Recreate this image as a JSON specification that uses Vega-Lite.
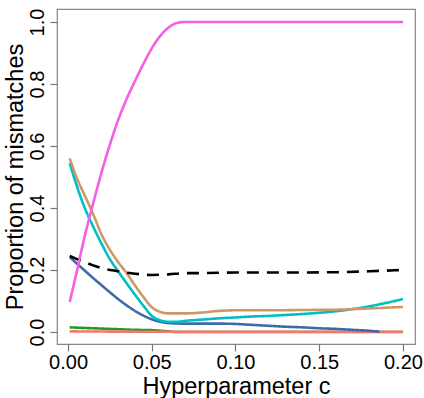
{
  "$schema": "https://vega.github.io/schema/vega-lite/v6.json",
  "width": 358,
  "height": 335,
  "autosize": {"type": "none"},
  "padding": {"left": 57, "top": 9, "right": 9, "bottom": 54},
  "background": "white",
  "config": {
    "view": {"stroke": "#888888", "strokeWidth": 1.2},
    "axis": {
      "grid": false,
      "domain": false,
      "tickColor": "#777777",
      "tickSize": 7,
      "tickWidth": 1.2,
      "labelFont": "Liberation Sans",
      "labelFontSize": 20,
      "labelColor": "#000000",
      "titleFont": "Liberation Sans",
      "titleFontSize": 23.5,
      "titleFontWeight": "normal",
      "titleColor": "#000000"
    }
  },
  "data": {
    "values": [
      {"s": "green", "x": 0.001, "y": 0.015},
      {"s": "green", "x": 0.01, "y": 0.013},
      {"s": "green", "x": 0.02, "y": 0.011},
      {"s": "green", "x": 0.03, "y": 0.009},
      {"s": "green", "x": 0.04, "y": 0.007},
      {"s": "green", "x": 0.05, "y": 0.006},
      {"s": "green", "x": 0.058, "y": 0.003},
      {"s": "green", "x": 0.065, "y": 0.0},
      {"s": "green", "x": 0.2, "y": 0.0},
      {"s": "red", "x": 0.001, "y": 0.002},
      {"s": "red", "x": 0.05, "y": 0.001},
      {"s": "red", "x": 0.1, "y": 0.001},
      {"s": "red", "x": 0.15, "y": 0.001},
      {"s": "red", "x": 0.2, "y": 0.001},
      {"s": "blue", "x": 0.001, "y": 0.242},
      {"s": "blue", "x": 0.005, "y": 0.222},
      {"s": "blue", "x": 0.01, "y": 0.198},
      {"s": "blue", "x": 0.015, "y": 0.174},
      {"s": "blue", "x": 0.02, "y": 0.151},
      {"s": "blue", "x": 0.025, "y": 0.128},
      {"s": "blue", "x": 0.03, "y": 0.106},
      {"s": "blue", "x": 0.035, "y": 0.086},
      {"s": "blue", "x": 0.04, "y": 0.068},
      {"s": "blue", "x": 0.045, "y": 0.053},
      {"s": "blue", "x": 0.05, "y": 0.041},
      {"s": "blue", "x": 0.055, "y": 0.033},
      {"s": "blue", "x": 0.06, "y": 0.029},
      {"s": "blue", "x": 0.07, "y": 0.027},
      {"s": "blue", "x": 0.08, "y": 0.027},
      {"s": "blue", "x": 0.09, "y": 0.027},
      {"s": "blue", "x": 0.1, "y": 0.026},
      {"s": "blue", "x": 0.11, "y": 0.023},
      {"s": "blue", "x": 0.12, "y": 0.02},
      {"s": "blue", "x": 0.13, "y": 0.017},
      {"s": "blue", "x": 0.14, "y": 0.015},
      {"s": "blue", "x": 0.15, "y": 0.012},
      {"s": "blue", "x": 0.16, "y": 0.01},
      {"s": "blue", "x": 0.17, "y": 0.007},
      {"s": "blue", "x": 0.18, "y": 0.004},
      {"s": "blue", "x": 0.186, "y": 0.001},
      {"s": "cyan", "x": 0.001, "y": 0.545},
      {"s": "cyan", "x": 0.005, "y": 0.475},
      {"s": "cyan", "x": 0.01, "y": 0.40},
      {"s": "cyan", "x": 0.015, "y": 0.34},
      {"s": "cyan", "x": 0.02, "y": 0.285},
      {"s": "cyan", "x": 0.025, "y": 0.235},
      {"s": "cyan", "x": 0.03, "y": 0.195},
      {"s": "cyan", "x": 0.035, "y": 0.157},
      {"s": "cyan", "x": 0.04, "y": 0.12},
      {"s": "cyan", "x": 0.045, "y": 0.085},
      {"s": "cyan", "x": 0.05, "y": 0.052},
      {"s": "cyan", "x": 0.055, "y": 0.038},
      {"s": "cyan", "x": 0.06, "y": 0.033},
      {"s": "cyan", "x": 0.065, "y": 0.033},
      {"s": "cyan", "x": 0.07, "y": 0.036},
      {"s": "cyan", "x": 0.08, "y": 0.04},
      {"s": "cyan", "x": 0.09, "y": 0.044},
      {"s": "cyan", "x": 0.1, "y": 0.047},
      {"s": "cyan", "x": 0.11, "y": 0.05},
      {"s": "cyan", "x": 0.12, "y": 0.052},
      {"s": "cyan", "x": 0.13, "y": 0.055},
      {"s": "cyan", "x": 0.14, "y": 0.058},
      {"s": "cyan", "x": 0.15, "y": 0.062},
      {"s": "cyan", "x": 0.16, "y": 0.067},
      {"s": "cyan", "x": 0.17, "y": 0.074},
      {"s": "cyan", "x": 0.18, "y": 0.083},
      {"s": "cyan", "x": 0.19, "y": 0.094},
      {"s": "cyan", "x": 0.2, "y": 0.106},
      {"s": "tan", "x": 0.001, "y": 0.56},
      {"s": "tan", "x": 0.005, "y": 0.50},
      {"s": "tan", "x": 0.01, "y": 0.44},
      {"s": "tan", "x": 0.015, "y": 0.38},
      {"s": "tan", "x": 0.02, "y": 0.315},
      {"s": "tan", "x": 0.025, "y": 0.265},
      {"s": "tan", "x": 0.03, "y": 0.225},
      {"s": "tan", "x": 0.035, "y": 0.19},
      {"s": "tan", "x": 0.04, "y": 0.15},
      {"s": "tan", "x": 0.045, "y": 0.113},
      {"s": "tan", "x": 0.05, "y": 0.08},
      {"s": "tan", "x": 0.055, "y": 0.065},
      {"s": "tan", "x": 0.06, "y": 0.06},
      {"s": "tan", "x": 0.07, "y": 0.06},
      {"s": "tan", "x": 0.08, "y": 0.063},
      {"s": "tan", "x": 0.09, "y": 0.068},
      {"s": "tan", "x": 0.1, "y": 0.07},
      {"s": "tan", "x": 0.12, "y": 0.07},
      {"s": "tan", "x": 0.14, "y": 0.071},
      {"s": "tan", "x": 0.16, "y": 0.072},
      {"s": "tan", "x": 0.18, "y": 0.076},
      {"s": "tan", "x": 0.2, "y": 0.081},
      {"s": "black", "x": 0.001, "y": 0.245},
      {"s": "black", "x": 0.005, "y": 0.236},
      {"s": "black", "x": 0.01, "y": 0.225},
      {"s": "black", "x": 0.015, "y": 0.215},
      {"s": "black", "x": 0.02, "y": 0.206},
      {"s": "black", "x": 0.03, "y": 0.196},
      {"s": "black", "x": 0.04, "y": 0.188},
      {"s": "black", "x": 0.05, "y": 0.184},
      {"s": "black", "x": 0.06, "y": 0.186},
      {"s": "black", "x": 0.07, "y": 0.19},
      {"s": "black", "x": 0.08, "y": 0.19},
      {"s": "black", "x": 0.1, "y": 0.192},
      {"s": "black", "x": 0.12, "y": 0.192},
      {"s": "black", "x": 0.14, "y": 0.192},
      {"s": "black", "x": 0.16, "y": 0.193},
      {"s": "black", "x": 0.18, "y": 0.196},
      {"s": "black", "x": 0.19, "y": 0.198},
      {"s": "black", "x": 0.2, "y": 0.2},
      {"s": "magenta", "x": 0.001, "y": 0.097},
      {"s": "magenta", "x": 0.005, "y": 0.19},
      {"s": "magenta", "x": 0.01, "y": 0.31},
      {"s": "magenta", "x": 0.015, "y": 0.415},
      {"s": "magenta", "x": 0.02, "y": 0.515},
      {"s": "magenta", "x": 0.025, "y": 0.605},
      {"s": "magenta", "x": 0.03, "y": 0.685},
      {"s": "magenta", "x": 0.035, "y": 0.752},
      {"s": "magenta", "x": 0.04, "y": 0.81},
      {"s": "magenta", "x": 0.045, "y": 0.865},
      {"s": "magenta", "x": 0.05, "y": 0.915},
      {"s": "magenta", "x": 0.055, "y": 0.955},
      {"s": "magenta", "x": 0.06, "y": 0.982},
      {"s": "magenta", "x": 0.065, "y": 0.997},
      {"s": "magenta", "x": 0.07, "y": 1.0},
      {"s": "magenta", "x": 0.1, "y": 1.0},
      {"s": "magenta", "x": 0.15, "y": 1.0},
      {"s": "magenta", "x": 0.2, "y": 1.0}
    ]
  },
  "mark": {"type": "line", "strokeWidth": 2.6, "clip": true, "interpolate": "monotone"},
  "encoding": {
    "x": {
      "field": "x",
      "type": "quantitative",
      "scale": {"domain": [-0.0066, 0.2072], "nice": false, "zero": false},
      "axis": {
        "values": [0, 0.05, 0.1, 0.15, 0.2],
        "format": ".2f",
        "labelPadding": 1,
        "titlePadding": 2,
        "title": "Hyperparameter c"
      }
    },
    "y": {
      "field": "y",
      "type": "quantitative",
      "scale": {"domain": [-0.0387, 1.042], "nice": false, "zero": false},
      "axis": {
        "values": [0, 0.2, 0.4, 0.6, 0.8, 1.0],
        "format": ".1f",
        "labelAngle": 270,
        "labelAlign": "center",
        "labelBaseline": "alphabetic",
        "labelPadding": 7,
        "titlePadding": 0,
        "title": "Proportion of mismatches"
      }
    },
    "color": {
      "field": "s",
      "type": "nominal",
      "scale": {
        "domain": ["green", "red", "blue", "cyan", "tan", "black", "magenta"],
        "range": ["#1E9E1E", "#F8766D", "#3D6BA6", "#00BFC4", "#CC9966", "#000000", "#F55FE5"]
      },
      "legend": null
    },
    "strokeDash": {
      "field": "s",
      "type": "nominal",
      "scale": {
        "domain": ["green", "red", "blue", "cyan", "tan", "black", "magenta"],
        "range": [[1, 0], [1, 0], [1, 0], [1, 0], [1, 0], [12, 8], [1, 0]]
      },
      "legend": null
    },
    "order": {"field": "x", "type": "quantitative"}
  }
}
